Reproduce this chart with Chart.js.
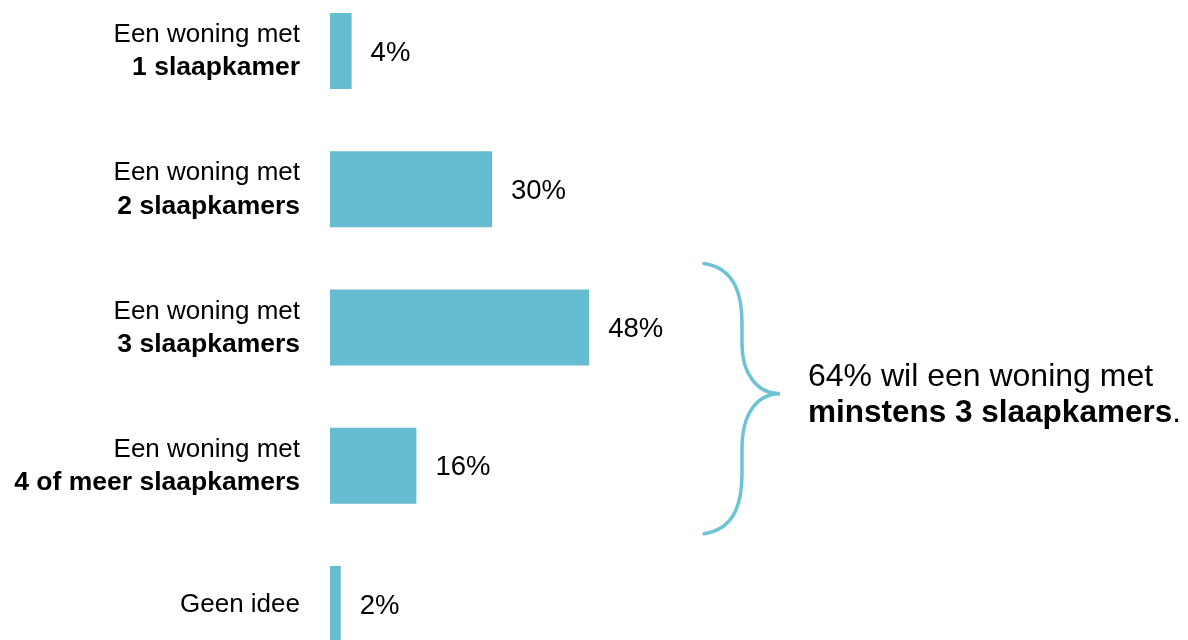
<!DOCTYPE html>
<html lang="nl">
<head>
    <meta charset="UTF-8">
    <title>Slaapkamers</title>
    <script src="https://cdn.jsdelivr.net/npm/chart.js"></script>
    <style>
        html, body { margin: 0; padding: 0; background: #fff; }
        .wrap { width: 1188px; height: 640px; position: relative; }
    </style>
</head>
<body>
    <div class="wrap"><canvas id="bedroomChart" width="1188" height="640"></canvas></div>

    <script>
        // data
        const categories = ["1 slaapkamer", "2 slaapkamers", "3 slaapkamers", "4 of meer slaapkamers", "Geen idee"];
        const labelTop = ["Een woning met", "Een woning met", "Een woning met", "Een woning met", ""];
        const labelBold = ["1 slaapkamer", "2 slaapkamers", "3 slaapkamers", "4 of meer slaapkamers", ""];
        const labelPlain = ["", "", "", "", "Geen idee"];
        const percentages = [4, 30, 48, 16, 2];
        const noteLine1 = "64% wil een woning met";
        const noteLine2 = "minstens 3 slaapkamers";

        const FONT = "'Liberation Sans', Arial, sans-serif";
        const BAR = "#66bcd1";

        const labelsPlugin = {
            id: "labels",
            afterDatasetsDraw(chart) {
                const ctx = chart.ctx;
                const y = chart.scales.y;
                const meta = chart.getDatasetMeta(0);
                ctx.save();
                ctx.fillStyle = "#000";
                ctx.textBaseline = "middle";

                categories.forEach((c, i) => {
                    const cy = y.getPixelForValue(i);
                    ctx.textAlign = "right";
                    if (labelPlain[i]) {
                        ctx.font = "26px " + FONT;
                        ctx.fillText(labelPlain[i], 300, cy + 1);
                    } else {
                        ctx.font = "26px " + FONT;
                        ctx.fillText(labelTop[i], 300, cy - 16);
                        ctx.font = "bold 26.5px " + FONT;
                        ctx.fillText(labelBold[i], 300, cy + 17);
                    }
                    // value label
                    const bar = meta.data[i];
                    ctx.textAlign = "left";
                    ctx.font = "27.5px " + FONT;
                    ctx.fillText(percentages[i] + "%", bar.x + 19, cy + 2);
                });

                // brace around bars 3 and 4
                const b3 = meta.data[2], b4 = meta.data[3];
                const top = b3.y - b3.height / 2 - 26;
                const bot = b4.y + b4.height / 2 + 30;
                const mid = (top + bot) / 2 - 5;
                const x0 = 704, xv = 742, xt = 780;
                ctx.strokeStyle = "#6cc3d6";
                ctx.lineWidth = 3.5;
                ctx.lineCap = "round";
                ctx.beginPath();
                ctx.moveTo(x0, top);
                ctx.bezierCurveTo(xv - 5, top + 5, xv, top + 35, xv, top + 60);
                ctx.lineTo(xv, mid - 50);
                ctx.bezierCurveTo(xv, mid - 20, xv + 15, mid, xt, mid);
                ctx.bezierCurveTo(xv + 15, mid, xv, mid + 20, xv, mid + 55);
                ctx.lineTo(xv, bot - 60);
                ctx.bezierCurveTo(xv, bot - 35, xv - 5, bot - 5, x0, bot);
                ctx.stroke();

                // note
                ctx.textAlign = "left";
                ctx.font = "32px " + FONT;
                ctx.fillText(noteLine1, 808, mid - 16);
                ctx.font = "bold 31.5px " + FONT;
                ctx.fillText(noteLine2, 808, mid + 20);
                const w = ctx.measureText(noteLine2).width;
                ctx.font = "31.5px " + FONT;
                ctx.fillText(".", 808 + w, mid + 20);
                ctx.restore();
            }
        };

        new Chart(document.getElementById("bedroomChart"), {
            type: "bar",
            data: {
                labels: categories,
                datasets: [{
                    data: percentages,
                    backgroundColor: BAR,
                    borderWidth: 0,
                    categoryPercentage: 1,
                    barPercentage: 0.55,
                    clip: false
                }]
            },
            options: {
                indexAxis: "y",
                responsive: false,
                animation: false,
                devicePixelRatio: 1,
                layout: { padding: { left: 330, right: 318, top: 51, bottom: 36 } },
                plugins: { legend: { display: false }, tooltip: { enabled: false } },
                scales: {
                    x: { display: false, min: 0, max: 100 },
                    y: { display: false, offset: false, grid: { display: false } }
                }
            },
            plugins: [labelsPlugin]
        });
    </script>
</body>
</html>
